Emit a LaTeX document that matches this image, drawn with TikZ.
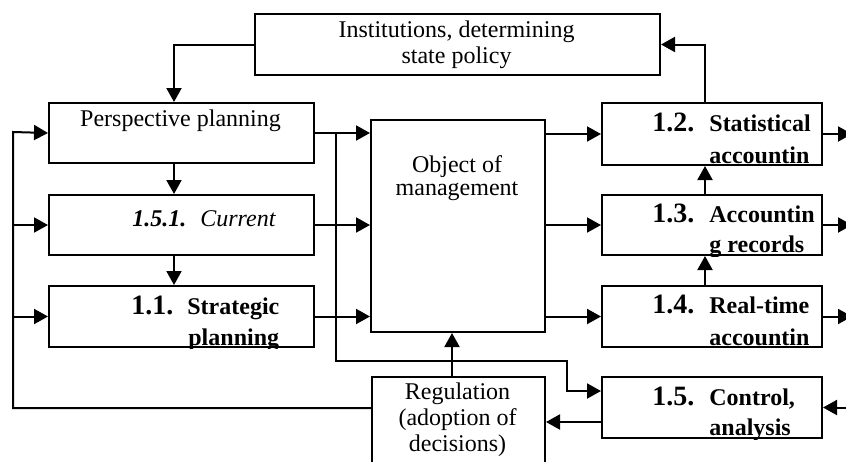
\documentclass[tikz,border=0pt]{standalone}
\usepackage{fontspec}
\setmainfont{Liberation Serif}
\usetikzlibrary{arrows.meta,calc}
\begin{document}
\begin{tikzpicture}[x=0.5pt,y=-0.5pt,
  box/.style={draw, line width=1pt, inner sep=0pt, anchor=north west},
  arr/.style={line width=1pt, -{Triangle[length=7pt,width=7.5pt]}},
  txt/.style={inner sep=0pt, font=\fontsize{12}{14}\selectfont},
  num/.style={inner sep=0pt, anchor=base west, font=\fontsize{14}{16}\selectfont\bfseries},
  bw/.style={inner sep=0pt, anchor=base west, font=\fontsize{12}{14}\selectfont\bfseries},
]
\useasboundingbox (0,0) rectangle (846,461);
\clip (0,0) rectangle (846,461);

% boxes
\node[box, minimum width=202.5pt, minimum height=30.5pt] (inst) at (254,13) {};
\node[box, minimum width=132.5pt, minimum height=30pt] (persp) at (48,102) {};
\node[box, minimum width=132.5pt, minimum height=30pt] (curr) at (48,194) {};
\node[box, minimum width=132.5pt, minimum height=30.5pt] (strat) at (48,285) {};
\node[box, minimum width=87pt, minimum height=106pt] (obj) at (370,119) {};
\node[box, minimum width=86.5pt, minimum height=60pt] (reg) at (371,376) {};
\node[box, minimum width=110pt, minimum height=31pt] (s12) at (601,102) {};
\node[box, minimum width=110pt, minimum height=30pt] (s13) at (601,194) {};
\node[box, minimum width=110pt, minimum height=30.5pt] (s14) at (601,285) {};
\node[box, minimum width=110pt, minimum height=30.5pt] (s15) at (601,376) {};

% texts
\node[txt, anchor=base] (instA) at (456.5,37) {Institutions, determining};
\node[txt, anchor=base] (instB) at (456.5,63) {state policy};
\node[txt, anchor=base] (perspT) at (180.5,126) {Perspective planning};
\node[txt, anchor=base] (objA) at (457,172) {Object of};
\node[txt, anchor=base] (objB) at (457,195) {management};
\node[txt, anchor=base] (regA) at (457.5,399) {Regulation};
\node[txt, anchor=base] (regB) at (457.5,425) {(adoption of};
\node[txt, anchor=base] (regC) at (457.5,451) {decisions)};
\node[txt, anchor=base west, font=\fontsize{12}{14}\selectfont\bfseries\itshape] (currN) at (132,226) {1.5.1.};
\node[txt, anchor=base west, font=\fontsize{12}{14}\selectfont\itshape] (currT) at (200,226) {Current};

\begin{scope}
\clip (strat.south west) rectangle (strat.north east);
\node[num] (stratN) at (131,314) {1.1.};
\node[bw] (stratA) at (187,314) {Strategic};
\node[bw] (stratB) at (188,345) {planning};
\end{scope}
\begin{scope}
\clip (s12.south west) rectangle (s12.north east);
\node[num] (s12N) at (652,131) {1.2.};
\node[bw] (s12A) at (709,131) {Statistical};
\node[bw] (s12B) at (709,163) {accountin};
\end{scope}
\begin{scope}
\clip (s13.south west) rectangle (s13.north east);
\node[num] (s13N) at (652,222) {1.3.};
\node[bw] (s13A) at (709,222) {Accountin};
\node[bw] (s13B) at (709,252) {g records};
\end{scope}
\begin{scope}
\clip (s14.south west) rectangle (s14.north east);
\node[num] (s14N) at (652,313) {1.4.};
\node[bw] (s14A) at (709,313) {Real-time};
\node[bw] (s14B) at (709,345) {accountin};
\end{scope}
\begin{scope}
\clip (s15.south west) rectangle (s15.north east);
\node[num] (s15N) at (652,405) {1.5.};
\node[bw] (s15A) at (709,405) {Control,};
\node[bw] (s15B) at (709,435) {analysis};
\end{scope}

% guide coordinates
\coordinate (pX) at (174,0);
\coordinate (regL) at (371,408);
\coordinate (lft) at (13,132);
\coordinate (j1) at (336,132);
\coordinate (j2) at (336,361);
\coordinate (j3) at (567,391);
\coordinate (rTop) at (452,376);
\coordinate (c15) at (601,422);
\coordinate (aX) at (705,0);
\coordinate (eR) at (852,0);

% left column
\draw[arr] (inst.west) -| (pX |- persp.north);
\draw[arr] (pX |- persp.south) -- (pX |- curr.north);
\draw[arr] (pX |- curr.south) -- (pX |- strat.north);

% feedback loop
\draw[arr] (regL) -| (lft) -- (persp.west);
\draw[arr] (lft |- curr.west) -- (curr.west);
\draw[arr] (lft |- strat.west) -- (strat.west);

% into object
\draw[arr] (persp.east) -- (persp.east -| obj.west);
\draw[arr] (curr.east) -- (curr.east -| obj.west);
\draw[arr] (strat.east) -- (strat.east -| obj.west);

% to control
\draw[arr] (j1) -- (j2) -| (j3) -- (j3 -| s15.west);

% regulation
\draw[arr] (rTop) -- (rTop |- obj.south);
\draw[arr] (c15) -- (c15 -| reg.east);

% object to right column
\draw[arr] (obj.east |- s12.west) -- (s12.west);
\draw[arr] (obj.east |- s13.west) -- (s13.west);
\draw[arr] (obj.east |- s14.west) -- (s14.west);

% right column
\draw[arr] (aX |- s13.north) -- (aX |- s12.south);
\draw[arr] (aX |- s14.north) -- (aX |- s13.south);
\draw[arr] (aX |- s12.north) |- (inst.east);

% right edge
\draw[arr] (s12.east) -- (s12.east -| eR);
\draw[arr] (s13.east) -- (s13.east -| eR);
\draw[arr] (s14.east) -- (s14.east -| eR);
\draw[arr] (s15.east -| eR) -- (s15.east);
\end{tikzpicture}
\end{document}
